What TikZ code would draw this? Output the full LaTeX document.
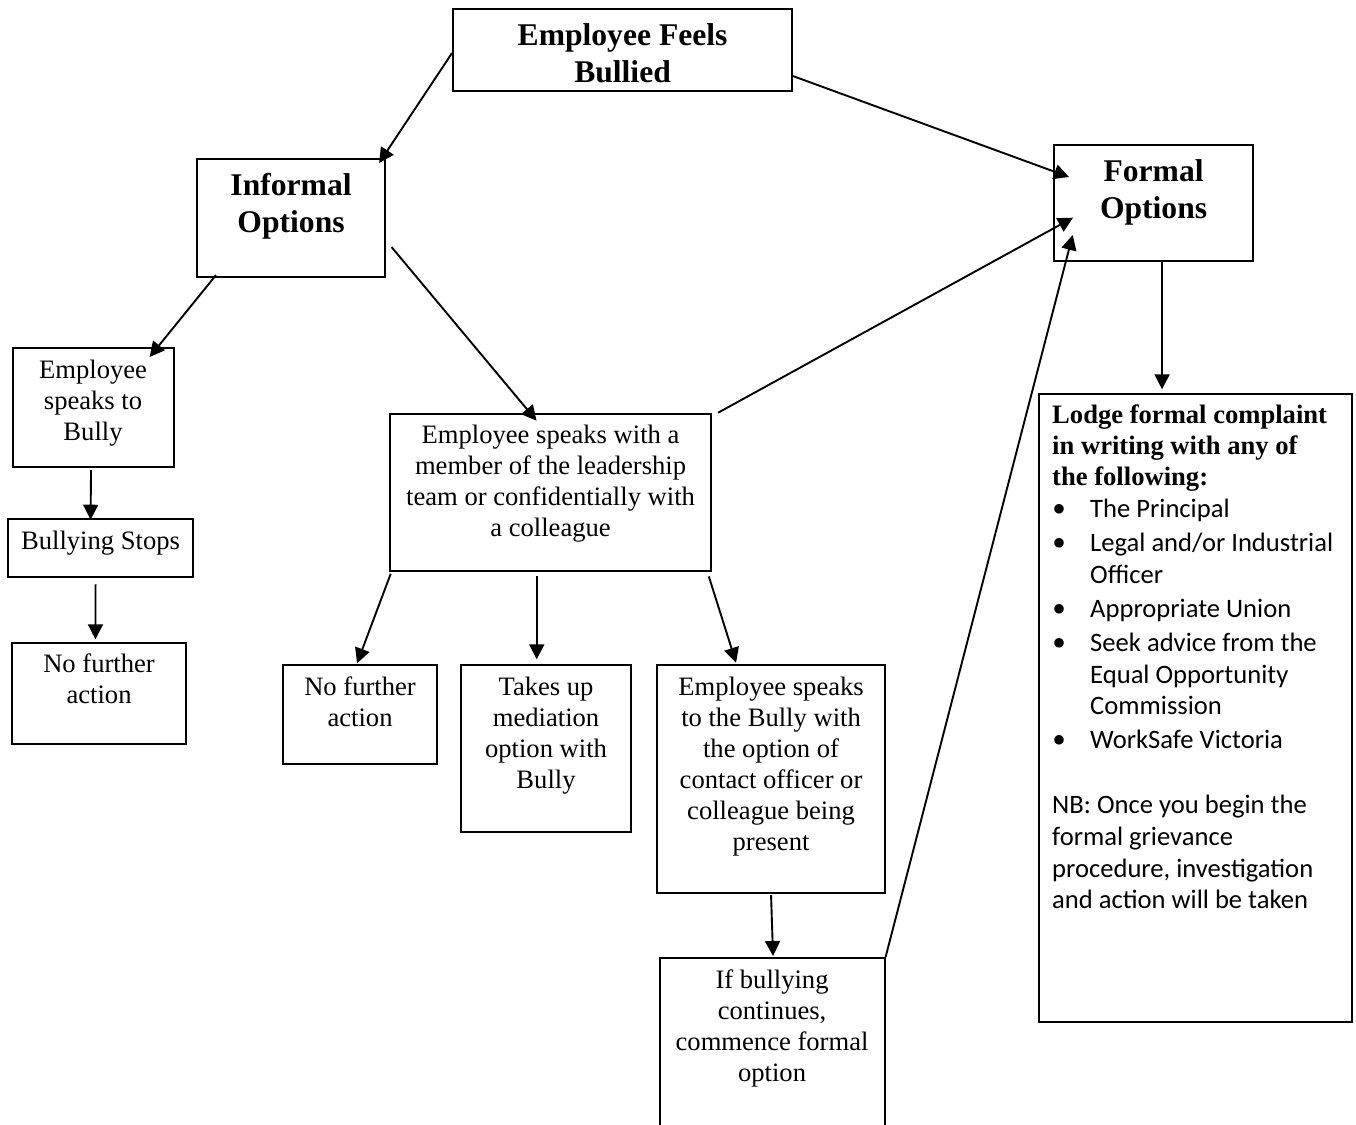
\documentclass[tikz,border=0pt]{standalone}
\usepackage{fontspec}
\setmainfont{Liberation Serif}
\newfontfamily\calib{Carlito}
\usetikzlibrary{arrows.meta}
\tikzset{
  boxs/.style={draw, line width=2.1pt, inner sep=0pt, anchor=north west},
  body/.style={font=\fontsize{26.6}{31}\selectfont, align=center, inner sep=0pt, anchor=north},
  head/.style={font=\fontsize{31.6}{37}\selectfont\bfseries, align=center, inner sep=0pt, anchor=north},
  conn/.style={line width=1.9pt, -{Triangle[length=15pt,width=15pt]}},
}
\newcommand\bitem[1]{\noindent\llap{\makebox[38pt][l]{\raisebox{-5pt}{\scalebox{1.5}{\rmfamily\textbullet}}}}#1\par}
\begin{document}
\begin{tikzpicture}[x=1pt,y=-1pt]
\useasboundingbox (0,0) rectangle (1356,1124);
\clip (0,0) rectangle (1356,1124);
\fill[white] (0,0) rectangle (1356,1124);

% boxes
\node[boxs, minimum width=339pt, minimum height=82pt] (top) at (452,8) {};
\node[boxs, minimum width=188pt, minimum height=118pt] (inf) at (196,158) {};
\node[boxs, minimum width=199pt, minimum height=116pt] (formal) at (1053,144) {};
\node[boxs, minimum width=161pt, minimum height=119pt] (speak) at (11.5,347) {};
\node[boxs, minimum width=185pt, minimum height=58pt] (bs) at (7,517.7) {};
\node[boxs, minimum width=174pt, minimum height=101pt] (nfa1) at (11,641.7) {};
\node[boxs, minimum width=321pt, minimum height=157.3pt] (mid) at (389,412.7) {};
\node[boxs, minimum width=154pt, minimum height=98.4pt] (nfa2) at (282,664.3) {};
\node[boxs, minimum width=170pt, minimum height=166.4pt] (tak) at (460,664.3) {};
\node[boxs, minimum width=228pt, minimum height=227.7pt] (esb) at (656,664) {};
\node[boxs, minimum width=225pt, minimum height=200pt] (ifb) at (658.5,957) {};
\node[boxs, minimum width=312.4pt, minimum height=627.7pt] (lodge) at (1038.3,393.3) {};

% texts
\node[head] (ttop) at ([yshift=-11.1pt]top.north) {\strut Employee Feels\\Bullied};
\node[head] (tinf) at ([yshift=-11.1pt]inf.north) {\strut Informal\\Options};
\node[head] (tformal) at ([yshift=-11.1pt]formal.north) {\strut Formal\\Options};
\node[body] (tspeak) at ([yshift=-9.3pt]speak.north) {\strut Employee\\speaks to\\Bully};
\node[body] (tbs) at ([yshift=-10.3pt]bs.north) {\strut Bullying Stops};
\node[body] (tnfa1) at ([yshift=-9.3pt]nfa1.north) {\strut No further\\action};
\node[body] (tmid) at ([yshift=-9.3pt]mid.north) {\strut Employee speaks with a\\member of the leadership\\team or confidentially with\\a colleague};
\node[body] (tnfa2) at ([yshift=-9.3pt]nfa2.north) {\strut No further\\action};
\node[body] (ttak) at ([yshift=-9.3pt]tak.north) {\strut Takes up\\mediation\\option with\\Bully};
\node[body] (tesb) at ([yshift=-9.3pt]esb.north) {\strut Employee speaks\\to the Bully with\\the option of\\contact officer or\\colleague being\\present};
\node[body] (tifb) at ([yshift=-9.3pt]ifb.north) {\strut If bullying\\continues,\\commence formal\\option};
\node[inner sep=0pt, anchor=north west] (tlodge) at (1052,402) {\parbox[t]{300pt}{\raggedright\parindent=0pt\parskip=0pt
\fontsize{26.6}{31}\selectfont
{\bfseries\strut Lodge formal complaint\newline in writing with any of\newline the following:\par}
{\calib\fontsize{26.6}{31.7}\selectfont\leftskip=38pt\relax
\bitem{The Principal}
\parskip=2.3pt\relax
\bitem{Legal and/or Industrial\newline Officer}
\bitem{Appropriate Union}
\bitem{Seek advice from the\newline Equal Opportunity\newline Commission}
\bitem{WorkSafe Victoria}
\leftskip=0pt\relax
\vspace{31pt}
\noindent NB: Once you begin the\newline formal grievance\newline procedure, investigation\newline and action will be taken\par}}};

% connectors
\draw[conn] ([yshift=-3pt]top.west) -- ([xshift=-7pt,yshift=-5pt]inf.north east);
\draw[conn] ([yshift=16pt]top.south east) -- ([xshift=16pt,yshift=-33pt]formal.north west);
\draw[conn] ([xshift=20pt,yshift=3pt]inf.south west) -- ([xshift=-25pt,yshift=-10pt]speak.north east);
\draw[conn] ([xshift=5.5pt,yshift=31pt]inf.south east) -- ([xshift=-14pt,yshift=-8pt]mid.north);
\draw[conn] ([xshift=6pt]mid.north east) -- ([xshift=20pt,yshift=-73.7pt]formal.north west);
\draw[conn] (ifb.north east) -- ([xshift=19.7pt,yshift=-91pt]formal.north west);
\draw[conn] ([xshift=8.5pt]formal.south) -- ([xshift=-33.5pt,yshift=4pt]lodge.north);
\draw[conn] ([xshift=-2pt,yshift=-2pt]speak.south) -- ([xshift=-10pt,yshift=-2pt]bs.north);
\draw[conn] ([xshift=-5pt,yshift=-6.5pt]bs.south) -- ([xshift=-3.6pt,yshift=2.4pt]nfa1.north);
\draw[conn] ([xshift=1.7pt,yshift=-1.7pt]mid.south west) -- ([xshift=-3pt,yshift=1pt]nfa2.north);
\draw[conn] ([xshift=-13.8pt,yshift=-4.3pt]mid.south) -- ([xshift=-9.3pt,yshift=5pt]tak.north);
\draw[conn] ([xshift=-3.3pt,yshift=-4.3pt]mid.south east) -- ([xshift=-35pt,yshift=1.3pt]esb.north);
\draw[conn] ([yshift=-1.3pt]esb.south) -- ([xshift=1pt,yshift=1pt]ifb.north);
\end{tikzpicture}
\end{document}
